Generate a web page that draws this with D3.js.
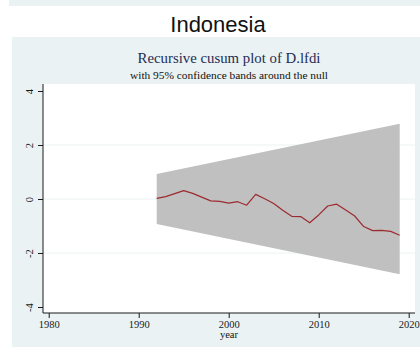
<!DOCTYPE html>
<html>
<head>
<meta charset="utf-8">
<script src="https://cdn.jsdelivr.net/npm/d3@7"></script>
<style>
  html, body { margin: 0; padding: 0; background: #ffffff; }
  svg { display: block; }
</style>
</head>
<body>
<svg id="chart" width="420" height="347"></svg>
<script>
// Recursive CUSUM of D.lfdi, Indonesia
const years = d3.range(1992, 2020);
const cusum = [0.02, 0.09, 0.20, 0.31, 0.21, 0.07, -0.07, -0.09, -0.15, -0.10,
               -0.23, 0.17, 0.01, -0.17, -0.42, -0.64, -0.65, -0.88, -0.59, -0.26,
               -0.19, -0.41, -0.63, -1.02, -1.17, -1.16, -1.20, -1.34];
// 95% band half-width at the first and last recursive residual
const bandYears = [1992, 2019];
const bandHalf = [0.93, 2.79];

const xTicks = [1980, 1990, 2000, 2010, 2020];
const yTicks = [-4, -2, 0, 2, 4];
const gridValues = [-2, 0, 2];

const svg = d3.select("#chart");
const bgBlue = "#eaf2f3";

// frame
const plot = { left: 43, right: 415, top: 84, bottom: 313 };

svg.append("rect").attr("x", 9).attr("y", 0).attr("width", 411).attr("height", 6).attr("fill", bgBlue);
svg.append("rect").attr("x", 12).attr("y", 37).attr("width", 408).attr("height", 310).attr("fill", bgBlue);
svg.append("rect").attr("x", plot.left).attr("y", plot.top)
  .attr("width", plot.right - plot.left).attr("height", plot.bottom - plot.top).attr("fill", "#ffffff");

const x = d3.scaleLinear().domain([1980, 2020]).range([48.7, 408.7]);
const y = d3.scaleLinear().domain([-4, 4]).range([307, 91]);

// gridlines
svg.append("g").selectAll("line").data(gridValues).join("line")
  .attr("x1", plot.left).attr("x2", plot.right)
  .attr("y1", d => y(d)).attr("y2", d => y(d))
  .attr("stroke", bgBlue).attr("stroke-width", 1);

// confidence band
const bandData = bandYears.map((yr, i) => ({ yr, h: bandHalf[i] }));
svg.append("path")
  .datum(bandData)
  .attr("fill", "#c0c0c0")
  .attr("d", d3.area().x(d => x(d.yr)).y0(d => y(-d.h)).y1(d => y(d.h)));

// cusum line
svg.append("path")
  .datum(years.map((yr, i) => [yr, cusum[i]]))
  .attr("fill", "none")
  .attr("stroke", "#9c2b30")
  .attr("stroke-width", 1.2)
  .attr("stroke-linejoin", "round")
  .attr("d", d3.line().x(d => x(d[0])).y(d => y(d[1])));

// axes
const serif = "'Liberation Serif', 'Times New Roman', serif";
const xAxis = svg.append("g").attr("transform", `translate(0,${plot.bottom})`)
  .call(d3.axisBottom(x).tickValues(xTicks).tickFormat(d3.format("d")).tickSize(5).tickSizeOuter(0));
const yAxis = svg.append("g").attr("transform", `translate(${plot.left},0)`)
  .call(d3.axisLeft(y).tickValues(yTicks).tickFormat(d => d < 0 ? "-" + Math.abs(d) : d).tickSize(5).tickSizeOuter(0));

[xAxis, yAxis].forEach(a => {
  a.select(".domain").remove();
  a.selectAll(".tick line").attr("stroke", "#1a1a1a");
  a.selectAll(".tick text").attr("font-family", serif).attr("font-size", 10.5).attr("fill", "#1a1a1a");
});
xAxis.selectAll(".tick text").attr("dy", null).attr("y", 15);
yAxis.selectAll(".tick text")
  .attr("x", null).attr("dy", null)
  .attr("text-anchor", "middle")
  .attr("transform", "translate(-10,0) rotate(-90)")
  .attr("y", 0);

svg.append("line").attr("x1", plot.left).attr("x2", plot.right)
  .attr("y1", plot.bottom).attr("y2", plot.bottom).attr("stroke", "#1a1a1a").attr("stroke-width", 1);
svg.append("line").attr("x1", plot.left).attr("x2", plot.left)
  .attr("y1", plot.top).attr("y2", plot.bottom).attr("stroke", "#1a1a1a").attr("stroke-width", 1);

// titles
const cx = (plot.left + plot.right) / 2;
svg.append("text").attr("x", 218).attr("y", 31.5).attr("text-anchor", "middle")
  .attr("font-family", "'Liberation Sans', Arial, sans-serif").attr("font-size", 22)
  .attr("fill", "#111").text("Indonesia");
svg.append("text").attr("x", cx).attr("y", 62.5).attr("text-anchor", "middle")
  .attr("font-family", serif).attr("font-size", 14.8).attr("fill", "#1e2d53")
  .text("Recursive cusum plot of D.lfdi");
svg.append("text").attr("x", cx).attr("y", 78.5).attr("text-anchor", "middle")
  .attr("font-family", serif).attr("font-size", 11.4).attr("fill", "#111")
  .text("with 95% confidence bands around the null");
svg.append("text").attr("x", cx).attr("y", 338).attr("text-anchor", "middle")
  .attr("font-family", serif).attr("font-size", 10.5).attr("fill", "#111")
  .text("year");
</script>
</body>
</html>
